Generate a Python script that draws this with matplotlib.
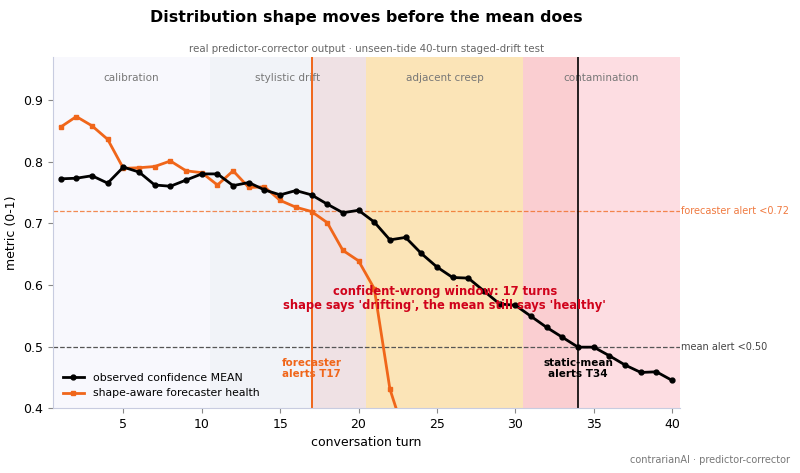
import numpy as np
import matplotlib.pyplot as plt

# Data
turns = list(range(1, 41))
mean_conf = [0.772, 0.773, 0.777, 0.765, 0.791, 0.783, 0.762, 0.760, 0.770, 0.780,
             0.780, 0.761, 0.766, 0.754, 0.746, 0.753, 0.746, 0.731, 0.717, 0.721,
             0.702, 0.673, 0.677, 0.651, 0.629, 0.612, 0.611, 0.590, 0.569, 0.567,
             0.549, 0.531, 0.515, 0.499, 0.499, 0.485, 0.470, 0.458, 0.459, 0.445]
fc_turns = list(range(1, 24))
fc_health = [0.856, 0.873, 0.858, 0.836, 0.789, 0.790, 0.792, 0.801, 0.785, 0.782,
             0.762, 0.785, 0.758, 0.759, 0.737, 0.726, 0.719, 0.701, 0.656, 0.639,
             0.594, 0.431, 0.352]

phase_names = ['calibration', 'stylistic drift', 'adjacent creep', 'contamination']
phase_edges = [0.5, 10.5, 20.5, 30.5, 40.5]
phase_colors = ['#f8f8fd', '#f1f3f8', '#fff6c5', '#fddde2']

fc_thresh = 0.72
mean_thresh = 0.50
fc_alert = 17
mean_alert = 34

orange = '#f0661a'
red_txt = '#d0021b'

fig = plt.figure(figsize=(8, 4.73), dpi=100)
ax = fig.add_axes([0.066, 0.137, 0.784, 0.743])

for i, name in enumerate(phase_names):
    ax.axvspan(phase_edges[i], phase_edges[i + 1], color=phase_colors[i], lw=0, zorder=0)
    ax.text((phase_edges[i] + phase_edges[i + 1]) / 2, 0.936, name, ha='center', va='center',
            fontsize=7.5, color='#777777', zorder=1)

# confident-wrong window
ax.axvspan(fc_alert, mean_alert, color='#e6645a', alpha=0.12, lw=0, zorder=0.5)

ax.axhline(fc_thresh, color=orange, ls='--', lw=0.9, alpha=0.75, zorder=1)
ax.axhline(mean_thresh, color='#555555', ls='--', lw=0.9, zorder=1)
ax.axvline(fc_alert, color=orange, lw=1.4, zorder=2)
ax.axvline(mean_alert, color='black', lw=1.2, zorder=2)

ax.plot(turns, mean_conf, color='black', lw=2, marker='o', ms=3.5,
        label='observed confidence MEAN', zorder=4)
ax.plot(fc_turns, fc_health, color=orange, lw=2, marker='s', ms=3,
        label='shape-aware forecaster health', zorder=3)

ax.text(40.55, fc_thresh, 'forecaster alert <0.72', color='#f07a40', fontsize=7,
        va='center', ha='left', clip_on=False)
ax.text(40.55, mean_thresh, 'mean alert <0.50', color='#444444', fontsize=7,
        va='center', ha='left', clip_on=False)

ax.text((fc_alert + mean_alert) / 2, 0.578,
        "confident-wrong window: 17 turns\nshape says 'drifting', the mean still says 'healthy'",
        ha='center', va='center', color=red_txt, fontsize=8.3, fontweight='bold',
        linespacing=1.15, zorder=5)
ax.text(fc_alert, 0.465, 'forecaster\nalerts T17', ha='center', va='center', color=orange,
        fontsize=7.4, fontweight='bold', linespacing=1.1, multialignment='left', zorder=5)
ax.text(mean_alert, 0.465, 'static-mean\nalerts T34', ha='center', va='center', color='black',
        fontsize=7.5, fontweight='bold', linespacing=1.1, zorder=5)

ax.set_xlim(0.5, 40.5)
ax.set_ylim(0.4, 0.97)
ax.set_xticks([5, 10, 15, 20, 25, 30, 35, 40])
ax.set_yticks([0.4, 0.5, 0.6, 0.7, 0.8, 0.9])
ax.tick_params(labelsize=9, color='#888888')
for s in ['top', 'right']:
    ax.spines[s].set_visible(False)
for s in ['left', 'bottom']:
    ax.spines[s].set_color('#c8cce0')
ax.set_xlabel('conversation turn', fontsize=9)
ax.set_ylabel('metric (0-1)', fontsize=9)

ax.legend(loc='lower left', fontsize=7.8, frameon=False, handlelength=2.0)

fig.text(0.458, 0.963, 'Distribution shape moves before the mean does', ha='center',
         va='center', fontsize=11.4, fontweight='bold')
fig.text(0.458, 0.897, 'real predictor-corrector output · unseen-tide 40-turn staged-drift test',
         ha='center', va='center', fontsize=7.4, color='#666666')
fig.text(0.988, 0.027, 'contrarianAI · predictor-corrector', ha='right', va='center',
         fontsize=7, color='#777777')

fig.savefig('out.png', dpi=100)
